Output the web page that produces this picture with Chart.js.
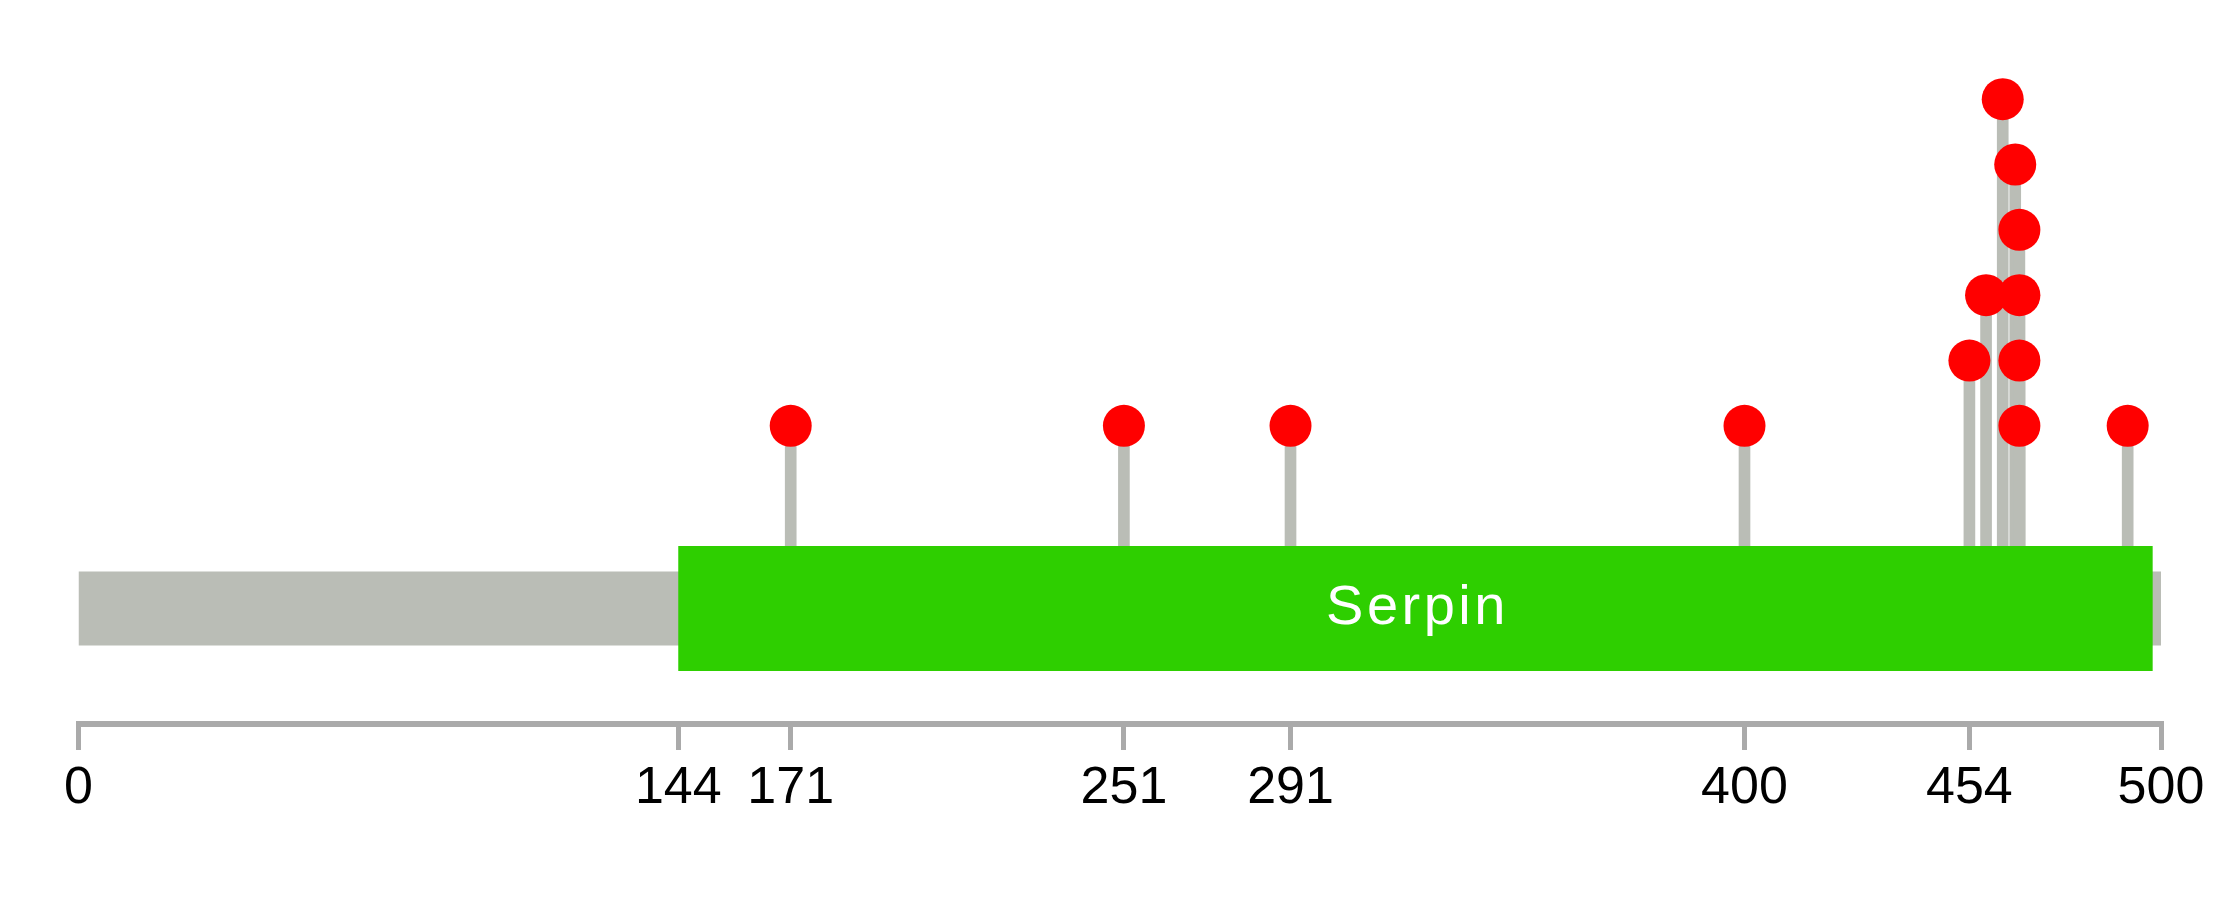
<!DOCTYPE html>
<html>
<head>
<meta charset="utf-8">
<script src="https://cdn.jsdelivr.net/npm/chart.js@4/dist/chart.umd.min.js"></script>
<style>
  html, body { margin: 0; padding: 0; background: #fff; }
  #wrap { width: 2239px; height: 906px; }
</style>
</head>
<body>
<div id="wrap"><canvas id="chart" width="2239" height="906"></canvas></div>
<script>
// ---- data ----
const PROTEIN_LENGTH = 500;
const DOMAIN_NAME = 'Serpin';
const DOMAIN_START = 144;
const DOMAIN_END = 498;
const MUT_POS = [171, 251, 291, 400, 454, 458, 462, 465, 466, 466, 466, 466, 492];
const MUT_LEVEL = [1, 1, 1, 1, 2, 3, 6, 5, 4, 3, 2, 1, 1];
const AXIS_TICKS = [0, 144, 171, 251, 291, 400, 454, 500];

// ---- layout (levels are the vertical unit) ----
const Y_MIN = -3.563;
const Y_MAX = 7.518;
const TRACK_Y = -1.795;

const GREY = '#babdb6';
const GREEN = '#2ecf00';
const AXIS = '#aaaaaa';
const FONT = '"Liberation Sans", Arial, Helvetica, sans-serif';

// white domain name centred on the green box
const domainLabel = {
  id: 'domainLabel',
  afterDatasetsDraw(chart) {
    const { ctx, scales: { x, y } } = chart;
    ctx.save();
    ctx.fillStyle = '#ffffff';
    ctx.font = '56px ' + FONT;
    ctx.letterSpacing = '3.5px';
    ctx.textAlign = 'center';
    ctx.textBaseline = 'middle';
    ctx.fillText(DOMAIN_NAME, x.getPixelForValue((DOMAIN_START + DOMAIN_END) / 2) + 2, y.getPixelForValue(TRACK_Y));
    ctx.restore();
  }
};

new Chart(document.getElementById('chart'), {
  type: 'scatter',
  data: {
    datasets: [
      {
        type: 'scatter',
        label: 'mutations',
        data: MUT_POS.map((x, i) => ({ x, y: MUT_LEVEL[i] })),
        pointRadius: 21,
        pointBackgroundColor: '#ff0000',
        pointBorderWidth: 0,
        order: 0
      },
      {
        type: 'line',
        label: 'domain',
        data: [{ x: DOMAIN_START, y: TRACK_Y }, { x: DOMAIN_END, y: TRACK_Y }],
        borderColor: GREEN,
        borderWidth: 125,
        borderCapStyle: 'butt',
        pointRadius: 0,
        order: 1
      },
      {
        type: 'line',
        label: 'protein',
        data: [{ x: 0, y: TRACK_Y }, { x: PROTEIN_LENGTH, y: TRACK_Y }],
        borderColor: GREY,
        borderWidth: 74,
        borderCapStyle: 'butt',
        pointRadius: 0,
        order: 2
      },
      {
        type: 'bar',
        label: 'stems',
        data: MUT_POS.map((x, i) => ({ x, y: [TRACK_Y, MUT_LEVEL[i]] })),
        backgroundColor: GREY,
        barThickness: 11,
        order: 3
      }
    ]
  },
  options: {
    responsive: false,
    animation: false,
    events: [],
    layout: { autoPadding: false, padding: { left: 78.5, right: 78, top: 0, bottom: 0 } },
    plugins: { legend: { display: false }, tooltip: { enabled: false } },
    scales: {
      x: {
        type: 'linear',
        min: 0,
        max: PROTEIN_LENGTH,
        offset: false,
        afterBuildTicks: s => { s.ticks = AXIS_TICKS.map(v => ({ value: v })); },
        afterFit: s => { s.height = 182; },
        grid: { drawOnChartArea: false, drawTicks: true, tickLength: 26, color: AXIS, lineWidth: 5, offset: false },
        border: { display: true, color: AXIS, width: 6 },
        ticks: {
          autoSkip: false,
          maxRotation: 0,
          padding: 7,
          color: '#000',
          font: { family: FONT, size: 52 },
          callback: v => String(v)
        }
      },
      y: { type: 'linear', display: false, min: Y_MIN, max: Y_MAX }
    }
  },
  plugins: [domainLabel]
});
</script>
</body>
</html>
